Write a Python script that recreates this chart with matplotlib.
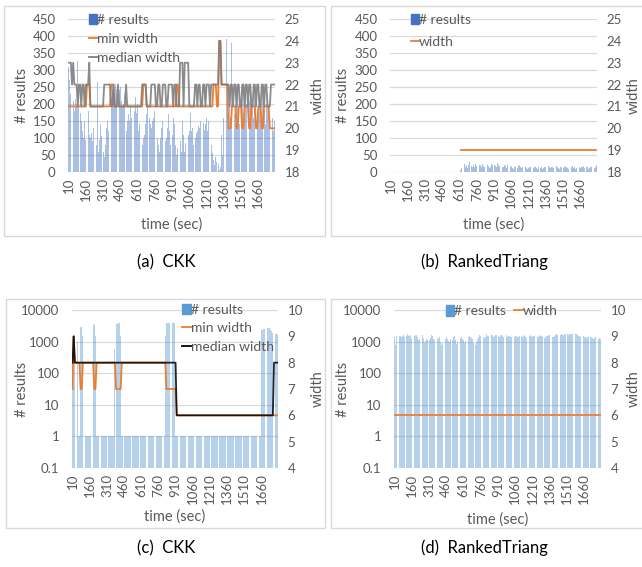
import numpy as np
import matplotlib
matplotlib.use("Agg")
import matplotlib.pyplot as plt
from matplotlib.patches import Patch, Rectangle
from matplotlib.lines import Line2D

plt.rcParams["font.family"] = ["Lato", "DejaVu Sans"]

# categories: time in seconds, one bar every 10 sec
times = np.arange(10, 1810, 10)
tick_labels = ["10", "160", "310", "460", "610", "760", "910",
               "1060", "1210", "1360", "1510", "1660"]

# (a) CKK, linear scale
results_a = [
    310, 270, 230, 245, 210, 180, 215, 200, 325, 190, 175, 150, 120, 100, 150,
    95, 250, 180, 110, 100, 115, 90, 130, 180, 80, 265, 60, 95, 140, 105,
    60, 45, 80, 130, 150, 120, 90, 200, 240, 250, 225, 260, 245, 200, 240,
    250, 210, 190, 200, 230, 120, 150, 170, 150, 190, 160, 150, 180, 220, 175,
    200, 120, 140, 90, 80, 100, 110, 140, 170, 200, 160, 140, 130, 150, 160,
    180, 120, 100, 80, 60, 100, 130, 150, 110, 90, 100, 130, 170, 120, 80,
    110, 160, 140, 80, 50, 70, 100, 90, 60, 150, 110, 60, 85, 95, 110,
    120, 175, 120, 130, 80, 100, 115, 120, 135, 130, 150, 170, 145, 125, 140,
    160, 120, 150, 100, 80, 55, 35, 20, 45, 30, 25, 5, 15, 110, 50,
    160, 260, 390, 170, 150, 200, 160, 380, 230, 170, 140, 200, 250, 180, 140,
    200, 250, 170, 160, 230, 200, 150, 210, 260, 180, 200, 160, 250, 190, 140,
    170, 230, 200, 150, 260, 180, 140, 200, 230, 170, 150, 215, 160, 120, 150,
]
min_width_a = [
    21, 21, 21, 21, 21, 21, 21, 21, 21, 21, 21, 21, 21, 21, 21,
    21, 22, 22, 22, 21, 21, 21, 21, 21, 21, 21, 21, 21, 21, 21,
    21, 21, 21, 21, 21, 21, 21, 22, 22, 22, 21, 21, 21, 21, 21,
    21, 21, 21, 21, 21, 21, 21, 21, 21, 21, 21, 21, 21, 21, 21,
    21, 21, 21, 21, 21, 22, 22, 22, 21, 21, 21, 21, 21, 21, 21,
    21, 21, 21, 21, 21, 21, 21, 21, 21, 21, 21, 21, 21, 21, 21,
    21, 21, 21, 21, 22, 22, 21, 21, 21, 21, 21, 21, 21, 21, 21,
    21, 21, 21, 21, 21, 21, 21, 21, 21, 21, 21, 21, 21, 21, 21,
    21, 21, 21, 21, 21, 21, 22, 22, 22, 21, 21, 24, 24, 22, 22,
    22, 22, 22, 22, 20, 20, 20, 21, 21, 21, 21, 20, 20, 21, 21,
    21, 20, 20, 21, 21, 21, 21, 20, 20, 21, 21, 21, 21, 20, 20,
    21, 21, 21, 20, 20, 21, 21, 21, 21, 21, 20, 20, 20, 20, 20,
]
median_width_a = [
    23, 23, 23, 22, 23, 22, 22, 22, 21, 22, 22, 21, 22, 22, 21,
    22, 22, 22, 23, 21, 21, 21, 21, 21, 21, 21, 21, 21, 21, 21,
    21, 22, 22, 22, 22, 22, 22, 21, 21, 22, 21, 21, 21, 22, 21,
    21, 21, 21, 21, 21, 22, 21, 21, 21, 21, 21, 21, 21, 21, 21,
    21, 21, 21, 21, 22, 22, 22, 22, 21, 21, 21, 21, 22, 22, 22,
    22, 21, 21, 22, 22, 21, 21, 22, 22, 22, 21, 21, 22, 22, 22,
    22, 21, 22, 22, 21, 21, 21, 23, 23, 23, 21, 23, 23, 23, 23,
    21, 21, 21, 21, 21, 22, 22, 21, 22, 22, 21, 21, 22, 22, 21,
    22, 22, 22, 21, 22, 22, 22, 22, 22, 22, 22, 24, 24, 22, 22,
    22, 22, 22, 22, 22, 21, 22, 22, 21, 22, 22, 21, 22, 22, 21,
    21, 22, 22, 21, 22, 22, 21, 22, 22, 21, 21, 22, 22, 21, 22,
    22, 21, 21, 22, 22, 21, 22, 22, 21, 21, 21, 22, 22, 22, 22,
]

# (b) RankedTriang, linear scale (no output before 620 sec)
results_b = [
    0, 0, 0, 0, 0, 0, 0, 0, 0, 0, 0, 0, 0, 0, 0,
    0, 0, 0, 0, 0, 0, 0, 0, 0, 0, 0, 0, 0, 0, 0,
    0, 0, 0, 0, 0, 0, 0, 0, 0, 0, 0, 0, 0, 0, 0,
    0, 0, 0, 0, 0, 0, 0, 0, 0, 0, 0, 0, 0, 0, 0,
    0, 5, 12, 18, 25, 15, 20, 12, 22, 28, 18, 14, 20, 16, 24,
    18, 15, 22, 20, 16, 25, 18, 14, 20, 22, 18, 12, 16, 24, 20,
    22, 18, 15, 26, 20, 18, 24, 16, 14, 20, 18, 12, 22, 16, 14,
    18, 12, 10, 16, 14, 12, 18, 20, 16, 12, 14, 18, 16, 12, 10,
    12, 16, 14, 10, 12, 15, 14, 12, 10, 16, 12, 14, 10, 12, 16,
    14, 12, 18, 15, 12, 16, 14, 12, 15, 18, 14, 12, 10, 14, 16,
    12, 18, 14, 16, 12, 10, 14, 16, 18, 12, 14, 10, 12, 16, 14,
    12, 15, 14, 18, 12, 16, 14, 10, 12, 16, 14, 18, 12, 15, 20,
]
n = None
width_b = [
    n, n, n, n, n, n, n, n, n, n, n, n, n, n, n,
    n, n, n, n, n, n, n, n, n, n, n, n, n, n, n,
    n, n, n, n, n, n, n, n, n, n, n, n, n, n, n,
    n, n, n, n, n, n, n, n, n, n, n, n, n, n, n,
    n, 19, 19, 19, 19, 19, 19, 19, 19, 19, 19, 19, 19, 19, 19,
    19, 19, 19, 19, 19, 19, 19, 19, 19, 19, 19, 19, 19, 19, 19,
    19, 19, 19, 19, 19, 19, 19, 19, 19, 19, 19, 19, 19, 19, 19,
    19, 19, 19, 19, 19, 19, 19, 19, 19, 19, 19, 19, 19, 19, 19,
    19, 19, 19, 19, 19, 19, 19, 19, 19, 19, 19, 19, 19, 19, 19,
    19, 19, 19, 19, 19, 19, 19, 19, 19, 19, 19, 19, 19, 19, 19,
    19, 19, 19, 19, 19, 19, 19, 19, 19, 19, 19, 19, 19, 19, 19,
    19, 19, 19, 19, 19, 19, 19, 19, 19, 19, 19, 19, 19, 19, 19,
]

# (c) CKK, log scale
results_c = [
    1500, 1500, 1300, 600, 1000, 1, 1, 2800, 2800, 1500, 1, 1, 1, 1, 1,
    1, 1, 1, 3500, 3300, 1500, 1, 1, 1, 1, 1, 1, 1, 1, 1,
    1, 1, 1, 1, 1, 1, 1, 600, 3500, 3600, 3800, 4000, 1500, 1, 1,
    1, 1, 1, 1, 1, 1, 1, 1, 1, 1, 1, 1, 1, 1, 1,
    1, 1, 1, 1, 1, 1, 1, 1, 1, 1, 1, 1, 1, 1, 1,
    1, 1, 1, 1, 1, 1, 1500, 3800, 4000, 4000, 4000, 3900, 4000, 4000, 4000,
    1, 1, 1, 1, 1, 1, 1, 1, 1, 1, 1, 1, 1, 1, 1,
    1, 1, 1, 1, 1, 1, 1, 1, 1, 1, 1, 1, 1, 1, 1,
    1, 1, 1, 1, 1, 1, 1, 1, 1, 1, 1, 1, 1, 1, 1,
    1, 1, 1, 1, 1, 1, 1, 1, 1, 1, 1, 1, 1, 1, 1,
    1, 1, 1, 1, 1, 1, 1, 1, 1, 1, 1, 1, 1, 1, 1,
    2400, 2400, 2500, 2450, 2500, 2600, 2700, 2600, 2300, 2100, 1900, 2000, 1800, 1800, 1700,
]
min_width_c = [
    7, 9, 8, 8, 8, 8, 8, 7, 7, 8, 8, 8, 8, 8, 8,
    8, 8, 8, 8, 7, 7, 8, 8, 8, 8, 8, 8, 8, 8, 8,
    8, 8, 8, 8, 8, 8, 8, 8, 7, 7, 7, 7, 7, 8, 8,
    8, 8, 8, 8, 8, 8, 8, 8, 8, 8, 8, 8, 8, 8, 8,
    8, 8, 8, 8, 8, 8, 8, 8, 8, 8, 8, 8, 8, 8, 8,
    8, 8, 8, 8, 8, 8, 8, 7, 7, 7, 7, 7, 7, 7, 7,
    7, 6, 6, 6, 6, 6, 6, 6, 6, 6, 6, 6, 6, 6, 6,
    6, 6, 6, 6, 6, 6, 6, 6, 6, 6, 6, 6, 6, 6, 6,
    6, 6, 6, 6, 6, 6, 6, 6, 6, 6, 6, 6, 6, 6, 6,
    6, 6, 6, 6, 6, 6, 6, 6, 6, 6, 6, 6, 6, 6, 6,
    6, 6, 6, 6, 6, 6, 6, 6, 6, 6, 6, 6, 6, 6, 6,
    6, 6, 6, 6, 6, 6, 6, 6, 6, 6, 6, 6, 6, 6, 6,
]
median_width_c = [
    8, 9, 8, 8, 8, 8, 8, 8, 8, 8, 8, 8, 8, 8, 8,
    8, 8, 8, 8, 8, 8, 8, 8, 8, 8, 8, 8, 8, 8, 8,
    8, 8, 8, 8, 8, 8, 8, 8, 8, 8, 8, 8, 8, 8, 8,
    8, 8, 8, 8, 8, 8, 8, 8, 8, 8, 8, 8, 8, 8, 8,
    8, 8, 8, 8, 8, 8, 8, 8, 8, 8, 8, 8, 8, 8, 8,
    8, 8, 8, 8, 8, 8, 8, 8, 8, 8, 8, 8, 8, 8, 8,
    8, 6, 6, 6, 6, 6, 6, 6, 6, 6, 6, 6, 6, 6, 6,
    6, 6, 6, 6, 6, 6, 6, 6, 6, 6, 6, 6, 6, 6, 6,
    6, 6, 6, 6, 6, 6, 6, 6, 6, 6, 6, 6, 6, 6, 6,
    6, 6, 6, 6, 6, 6, 6, 6, 6, 6, 6, 6, 6, 6, 6,
    6, 6, 6, 6, 6, 6, 6, 6, 6, 6, 6, 6, 6, 6, 6,
    6, 6, 6, 6, 6, 6, 6, 6, 6, 6, 6, 8, 8, 8, 8,
]

# (d) RankedTriang, log scale
results_d = [
    1400, 800, 1500, 1450, 1550, 1500, 1400, 1550, 1600, 1450, 1500, 1700, 1550, 1650, 1500,
    1200, 1100, 1500, 1600, 1650, 1400, 1100, 1200, 1550, 1600, 1300, 900, 1050, 1200, 1100,
    1150, 1300, 1600, 1500, 1250, 1100, 1000, 1200, 1300, 1450, 1000, 800, 900, 1050, 1200,
    1350, 1250, 1050, 950, 1200, 1100, 1400, 1500, 1150, 850, 1000, 1200, 1300, 1450, 1250,
    1100, 900, 1050, 1250, 1350, 1500, 1400, 1300, 1200, 900, 800, 950, 1200, 1450, 1600,
    1550, 1500, 1350, 1300, 1450, 1700, 1500, 1550, 1600, 1650, 1600, 1450, 1500, 1600, 1650,
    1500, 1400, 1600, 1650, 1500, 1400, 1550, 1600, 1450, 1500, 1550, 1400, 1350, 1500, 1450,
    1550, 1500, 1400, 1450, 1500, 1550, 1450, 1600, 1550, 1400, 1300, 1450, 1500, 1600, 1550,
    1450, 1500, 1550, 1600, 1500, 1400, 1550, 1600, 1500, 1350, 1300, 1450, 1500, 1550, 1650,
    1600, 1550, 1450, 1400, 1500, 1650, 1700, 1600, 1550, 1650, 1700, 1600, 1650, 1700, 1750,
    1700, 1650, 1750, 1800, 1750, 1700, 1850, 1800, 1750, 1600, 1500, 1550, 1450, 1400, 1500,
    1450, 1400, 1300, 1350, 1400, 1450, 1350, 1300, 1250, 1300, 1350, 1250, 1200, 1300, 1250,
]
width_d = [
    6, 6, 6, 6, 6, 6, 6, 6, 6, 6, 6, 6, 6, 6, 6,
    6, 6, 6, 6, 6, 6, 6, 6, 6, 6, 6, 6, 6, 6, 6,
    6, 6, 6, 6, 6, 6, 6, 6, 6, 6, 6, 6, 6, 6, 6,
    6, 6, 6, 6, 6, 6, 6, 6, 6, 6, 6, 6, 6, 6, 6,
    6, 6, 6, 6, 6, 6, 6, 6, 6, 6, 6, 6, 6, 6, 6,
    6, 6, 6, 6, 6, 6, 6, 6, 6, 6, 6, 6, 6, 6, 6,
    6, 6, 6, 6, 6, 6, 6, 6, 6, 6, 6, 6, 6, 6, 6,
    6, 6, 6, 6, 6, 6, 6, 6, 6, 6, 6, 6, 6, 6, 6,
    6, 6, 6, 6, 6, 6, 6, 6, 6, 6, 6, 6, 6, 6, 6,
    6, 6, 6, 6, 6, 6, 6, 6, 6, 6, 6, 6, 6, 6, 6,
    6, 6, 6, 6, 6, 6, 6, 6, 6, 6, 6, 6, 6, 6, 6,
    6, 6, 6, 6, 6, 6, 6, 6, 6, 6, 6, 6, 6, 6, 6,
]

W, H = 642, 567
TXT = "#595959"
GRID = "#D9D9D9"
BLUE_A = "#4472C4"
BLUE_C = "#5B9BD5"
ORANGE = "#ED7D31"
FS = 9.5
LFS = 10.5

fig = plt.figure(figsize=(W / 100, H / 100), dpi=100)


def px_axes(l, t, r, b):
    return fig.add_axes([l / W, 1 - b / H, (r - l) / W, (b - t) / H])


def px_box(l, t, r, b):
    fig.patches.append(Rectangle((l / W, 1 - b / H), (r - l) / W, (b - t) / H,
                                 transform=fig.transFigure, fill=False,
                                 edgecolor=GRID, lw=1))


def style(ax, ax2):
    x = np.arange(len(times))
    ax.set_xlim(-0.5, len(times) - 0.5)
    ax.set_xticks(x[::15])
    ax.set_xticklabels(tick_labels, rotation=90, fontsize=FS, color=TXT)
    for a in (ax, ax2):
        for s in a.spines.values():
            s.set_visible(False)
        a.tick_params(length=0, labelsize=FS, labelcolor=TXT)
    ax.tick_params(axis="y", pad=9)
    ax.tick_params(axis="x", pad=4)
    ax2.tick_params(axis="y", pad=7)
    ax.yaxis.grid(True, color=GRID, lw=0.9)
    ax.set_axisbelow(True)


def panel(box, area, results, lines, bar_color, log, legend_kw, labels_x):
    px_box(*box)
    ax = px_axes(*area)
    ax2 = ax.twinx()
    x = np.arange(len(times))
    if log:
        ax.set_yscale("log")
    ax.bar(x, results, width=0.8, color=bar_color, alpha=0.45, lw=0,
           antialiased=False)
    for vals, color, alpha in lines:
        y = np.array([np.nan if v is None else v for v in vals], dtype=float)
        ax2.plot(x, y, color=color, lw=1.3, alpha=alpha)
    if log:
        ax.set_ylim(0.1, 10000)
        ax.set_yticks([0.1, 1, 10, 100, 1000, 10000])
        ax.set_yticklabels(["0.1", "1", "10", "100", "1000", "10000"])
        ax.minorticks_off()
        ax2.set_ylim(4, 10)
        ax2.set_yticks(range(4, 11))
    else:
        ax.set_ylim(0, 450)
        ax.set_yticks(range(0, 451, 50))
        ax2.set_ylim(18, 25)
        ax2.set_yticks(range(18, 26))
    style(ax, ax2)
    handles = [Patch(color=bar_color, label="# results")]
    for (vals, color, alpha), name in zip(lines, legend_kw.pop("names")):
        handles.append(Line2D([], [], color=color, lw=1.3, label=name))
    ax2.legend(handles=handles, frameon=False, fontsize=FS + 0.5,
               handlelength=0.6, handleheight=0.8, handletextpad=0.0,
               borderaxespad=0, borderpad=0, labelcolor=TXT, **legend_kw)
    lx_left, lx_right, tx_y = labels_x
    cy = 1 - (area[1] + area[3]) / 2 / H
    fig.text(lx_left / W, cy, "# results", rotation=90, ha="center",
             va="center", fontsize=LFS, color=TXT)
    fig.text(lx_right / W, cy, "width", rotation=90, ha="center",
             va="center", fontsize=LFS, color=TXT)
    fig.text((area[0] + area[2]) / 2 / W, 1 - tx_y / H, "time (sec)",
             ha="center", va="center", fontsize=LFS, color=TXT)
    return ax


panel((4, 6, 325, 236), (68, 19, 275, 172), results_a,
      [(min_width_a, ORANGE, 1.0), (median_width_a, "#7F7F7F", 0.9)],
      BLUE_A, False,
      dict(names=["min width", "median width"], loc="upper left",
           bbox_to_anchor=(0.1, 1.035), labelspacing=0.5),
      (22, 318, 225))

panel((331, 6, 645, 236), (390, 19, 597, 172), results_b,
      [(width_b, ORANGE, 1.0)],
      BLUE_A, False,
      dict(names=["width"], loc="upper left",
           bbox_to_anchor=(0.1, 1.035), labelspacing=0.75),
      (343, 634, 225))

panel((6, 299, 325, 528), (72, 310, 278, 468), results_c,
      [(min_width_c, ORANGE, 1.0), (median_width_c, "black", 0.85)],
      BLUE_C, True,
      dict(names=["min width", "median width"], loc="upper left",
           bbox_to_anchor=(0.535, 1.04), labelspacing=0.45),
      (22, 318, 517))

panel((331, 299, 645, 528), (394, 310, 601, 468), results_d,
      [(width_d, ORANGE, 1.0)],
      BLUE_C, True,
      dict(names=["width"], loc="upper center", ncol=2, columnspacing=0.6,
           bbox_to_anchor=(0.52, 1.03)),
      (343, 634, 520))

cap = dict(ha="center", va="center", fontsize=12, color="black")
fig.text(166 / W, 1 - 262 / H, "(a)  CKK", **cap)
fig.text(484 / W, 1 - 262 / H, "(b)  RankedTriang", **cap)
fig.text(166 / W, 1 - 548 / H, "(c)  CKK", **cap)
fig.text(484 / W, 1 - 548 / H, "(d)  RankedTriang", **cap)

fig.savefig("out.png", dpi=100)
